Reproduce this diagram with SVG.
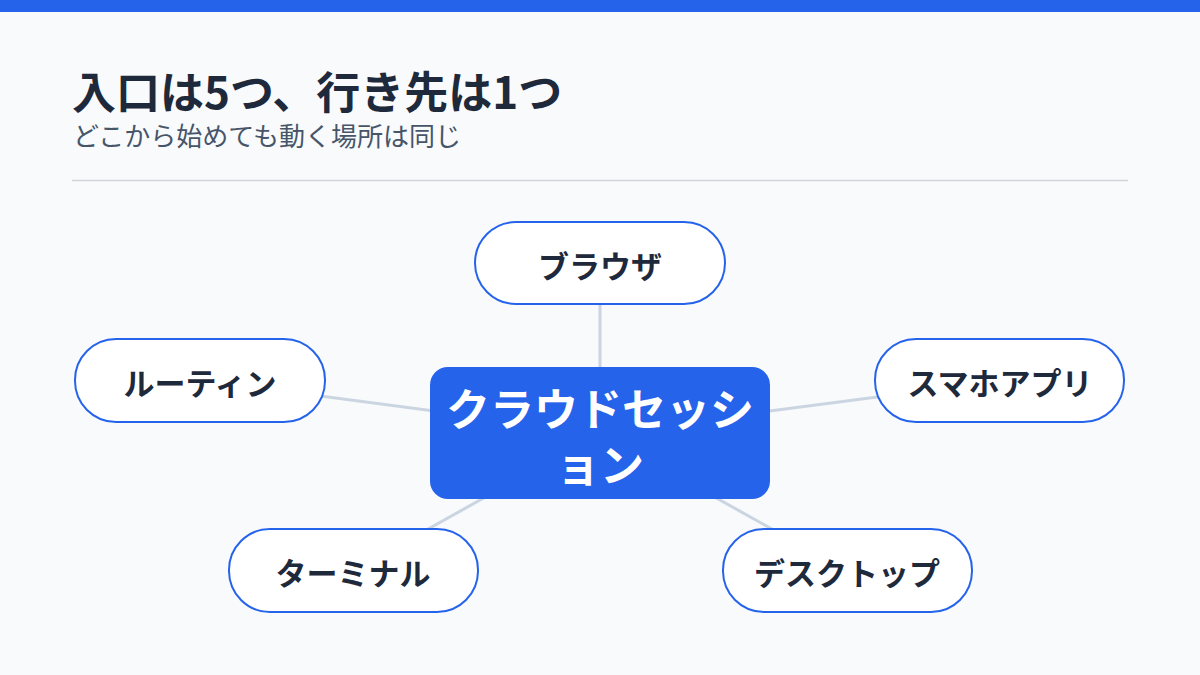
<svg xmlns="http://www.w3.org/2000/svg" width="1200" height="675" viewBox="0 0 1200 675">
<style>
.title{font-family:"Noto Sans CJK JP","Noto Sans",sans-serif;font-weight:700;font-size:44px;fill:#1E293B}
.sub{font-family:"Noto Sans CJK JP","Noto Sans",sans-serif;font-weight:400;font-size:26px;fill:#475569}
.pill{fill:#FFFFFF;stroke:#2563EB;stroke-width:2}
.lbl{font-family:"Noto Sans CJK JP","Noto Sans",sans-serif;font-weight:700;font-size:31px;fill:#1E293B;text-anchor:middle;dominant-baseline:central}
.hub{fill:#2563EB}
.hubt{font-family:"Noto Sans CJK JP","Noto Sans",sans-serif;font-weight:700;font-size:44px;fill:#FFFFFF;text-anchor:middle;dominant-baseline:central}
.edge{stroke:#CBD5E1;stroke-width:3;fill:none}
</style>
<rect x="0" y="0" width="1200" height="675" fill="#F8FAFC"/>
<rect x="0" y="0" width="1200" height="12" fill="#2563EB"/>
<text class="title" x="72" y="109">入口は5つ、行き先は1つ</text>
<text class="sub" x="73" y="146">どこから始めても動く場所は同じ</text>
<line x1="72" y1="180.5" x2="1128" y2="180.5" stroke="#D1D5DB" stroke-width="1.5"/>
<g id="connectors">
<line class="edge" x1="600" y1="433" x2="600" y2="263"/>
<line class="edge" x1="600" y1="433" x2="200" y2="380"/>
<line class="edge" x1="600" y1="433" x2="1000" y2="381"/>
<line class="edge" x1="600" y1="433" x2="353" y2="571"/>
<line class="edge" x1="600" y1="433" x2="847" y2="571"/>
</g>
<g id="node-browser">
<rect class="pill" x="475" y="222" width="250" height="82" rx="41"/>
<text class="lbl" x="600" y="264">ブラウザ</text>
</g>
<g id="node-routine">
<rect class="pill" x="75" y="339" width="250" height="83" rx="41"/>
<text class="lbl" x="200" y="381">ルーティン</text>
</g>
<g id="node-mobile">
<rect class="pill" x="875" y="339" width="249" height="83" rx="41"/>
<text class="lbl" x="1000" y="381">スマホアプリ</text>
</g>
<g id="node-terminal">
<rect class="pill" x="229" y="529" width="249" height="83" rx="41"/>
<text class="lbl" x="353" y="571">ターミナル</text>
</g>
<g id="node-desktop">
<rect class="pill" x="723" y="529" width="249" height="83" rx="41"/>
<text class="lbl" x="847" y="571">デスクトップ</text>
</g>
<g id="node-hub">
<rect class="hub" x="430" y="367" width="340" height="132" rx="18"/>
<text class="hubt" x="600" y="407">クラウドセッシ</text>
<text class="hubt" x="600" y="463">ョン</text>
</g>
</svg>
